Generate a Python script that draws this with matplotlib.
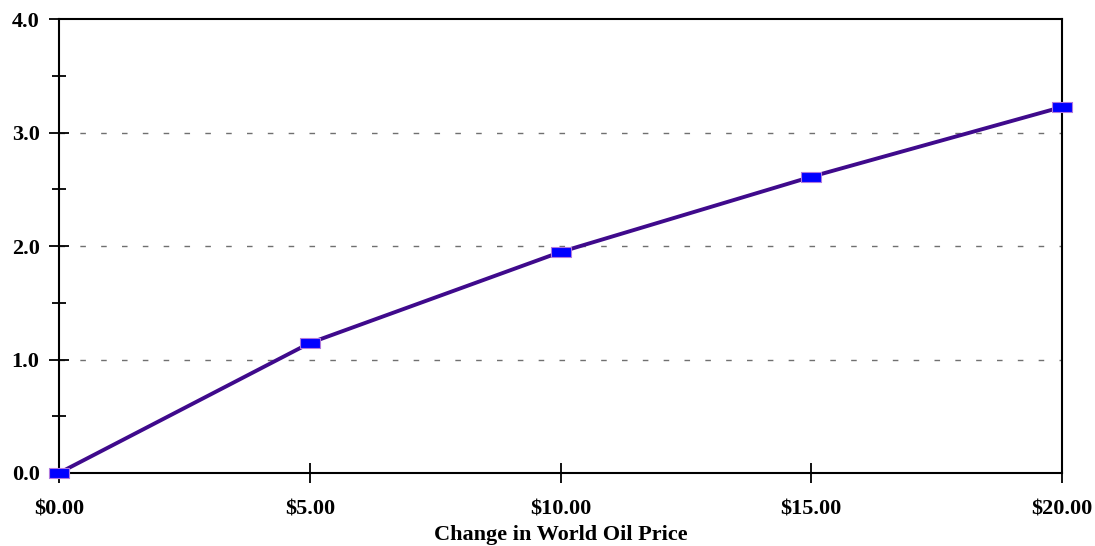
import matplotlib.pyplot as plt
from matplotlib.ticker import MultipleLocator, FuncFormatter
from matplotlib.path import Path

# oil price change ($) and response
price_change = [0, 5, 10, 15, 20]
response = [0.0, 1.145, 1.947, 2.61, 3.225]

plt.rcParams['font.family'] = ['Liberation Serif', 'DejaVu Serif']
plt.rcParams['font.weight'] = 'bold'

fig = plt.figure(figsize=(10.95, 5.46), dpi=100)
ax = fig.add_axes([0.0539, 0.1337, 0.9160, 0.8315])

rect = Path([(-1, -0.5), (1, -0.5), (1, 0.5), (-1, 0.5), (-1, -0.5)],
            [Path.MOVETO, Path.LINETO, Path.LINETO, Path.LINETO, Path.CLOSEPOLY])

ax.plot(price_change, response, color='#3f0a8c', lw=2.8, marker=rect, markersize=14,
        markerfacecolor='#0000ff', markeredgecolor='#b07adf', markeredgewidth=0.8,
        clip_on=False, zorder=3)

ax.set_xlim(0, 20)
ax.set_ylim(0, 4)
ax.xaxis.set_major_locator(MultipleLocator(5))
ax.yaxis.set_major_locator(MultipleLocator(1))
ax.yaxis.set_minor_locator(MultipleLocator(0.5))
ax.xaxis.set_major_formatter(FuncFormatter(lambda v, p: f'${v:.2f}'))
ax.yaxis.set_major_formatter(FuncFormatter(lambda v, p: f'{v:.1f}'))

for v in [1, 2, 3]:
    ax.axhline(v, color='#707070', lw=1, ls=(0, (4, 11)), zorder=1)

for s in ax.spines.values():
    s.set_linewidth(1.5)

ax.tick_params(axis='both', which='major', direction='inout', length=14, width=1.3,
               labelsize=16)
ax.tick_params(axis='x', pad=12)
ax.tick_params(axis='y', pad=7)
ax.tick_params(axis='y', which='minor', direction='inout', length=10, width=1.3)
ax.tick_params(axis='x', which='minor', length=0)

ax.set_xlabel('Change in World Oil Price', fontsize=16, fontweight='bold', labelpad=4)

fig.savefig('out.png', dpi=100)
